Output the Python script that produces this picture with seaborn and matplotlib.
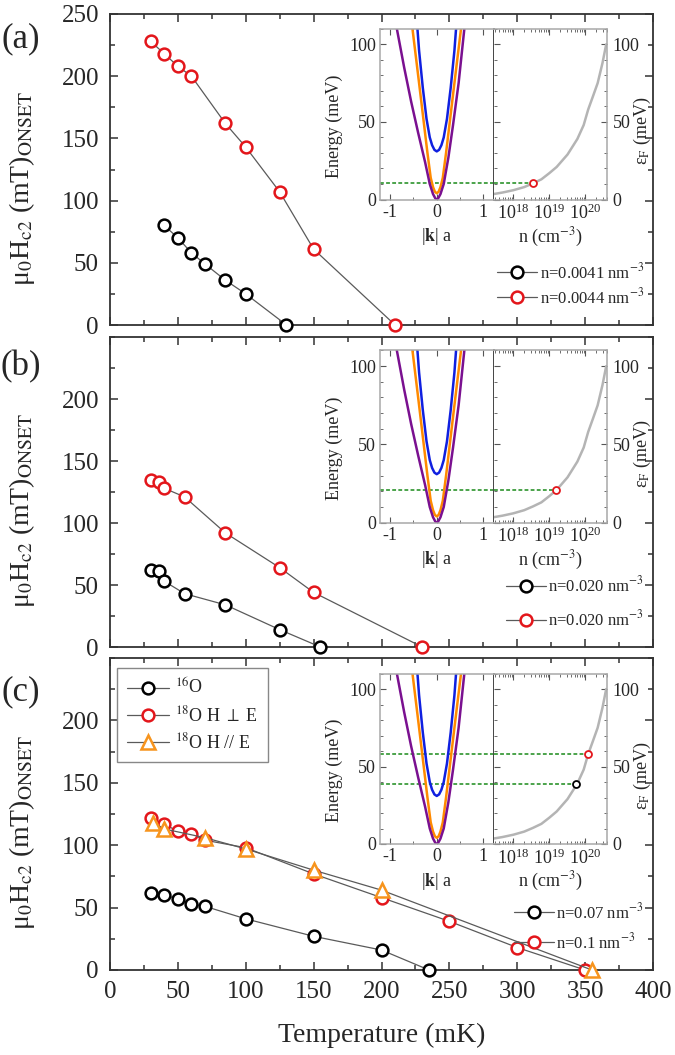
import matplotlib
matplotlib.use("Agg")
import matplotlib.pyplot as plt
import seaborn as sns
from matplotlib.ticker import MultipleLocator, FixedLocator, LogLocator, NullFormatter

sns.set_style("ticks")
plt.rcParams['font.family'] = ['Liberation Serif', 'DejaVu Serif']
plt.rcParams['mathtext.fontset'] = 'stix'
plt.rcParams['axes.unicode_minus'] = False

# ---- main panels: onset field vs temperature ----
T_a_blk = [40, 50, 60, 70, 85, 100, 130]
H_a_blk = [80, 70, 58, 49, 36, 25, 0]
T_a_red = [30, 40, 50, 60, 85, 100, 125, 150, 210]
H_a_red = [228, 218, 208, 200, 162, 143, 107, 61, 0]

T_b_blk = [30, 36, 40, 55, 85, 125, 155]
H_b_blk = [62, 61, 53, 43, 34, 14, 0]
T_b_red = [30, 36, 40, 55, 85, 125, 150, 230]
H_b_red = [135, 133, 128, 121, 92, 64, 44, 0]

T_c_16 = [30, 40, 50, 60, 70, 100, 150, 200, 235]
H_c_16 = [62, 60, 57, 53, 51, 41, 27, 16, 0]
T_c_perp = [30, 40, 50, 60, 70, 100, 150, 200, 250, 300, 350]
H_c_perp = [122, 117, 111, 109, 104, 98, 77, 58, 39, 18, 0]
T_c_par = [32, 40, 70, 100, 150, 200, 355]
H_c_par = [118, 113, 106, 97, 80, 64, 0]

labels_a = ["n=0.0041 nm$^{-3}$", "n=0.0044 nm$^{-3}$"]
labels_b = ["n=0.020 nm$^{-3}$", "n=0.020 nm$^{-3}$"]
labels_c = ["n=0.07 nm$^{-3}$", "n=0.1 nm$^{-3}$"]
labels_iso = ["$^{16}$O", "$^{18}$O H $\\perp$ E", "$^{18}$O H // E"]

# ---- insets: band dispersions and Fermi energy vs density ----
k_blue = [-0.42, -0.38, -0.30, -0.22, -0.15, -0.10, -0.05, 0, 0.05, 0.10, 0.15, 0.22, 0.30, 0.38, 0.42]
E_blue = [112, 96, 72, 52, 40, 35, 32, 31, 32, 35, 40, 52, 72, 96, 112]
k_orange = [-0.53, -0.40, -0.30, -0.20, -0.13, -0.08, -0.04, 0, 0.04, 0.08, 0.13, 0.20, 0.30, 0.40, 0.53]
E_orange = [112, 80, 55, 30, 14, 8, 5, 4, 5, 8, 14, 30, 55, 80, 112]
k_purple = [-0.87, -0.70, -0.55, -0.40, -0.25, -0.15, -0.08, -0.03, 0, 0.03, 0.08, 0.15, 0.25, 0.35, 0.47, 0.60]
E_purple = [112, 85, 63, 43, 24, 10, 3.5, 0.7, 0, 0.7, 3.5, 10, 27, 48, 75, 112]

n_curve = [2.8e17, 5e17, 1e18, 2e18, 3.5e18, 6e18, 1e19, 1.6e19, 3.2e19, 6e19, 9e19, 1.2e20, 1.6e20, 2.2e20, 3e20, 3.8e20]
eF_curve = [3.5, 4.5, 6, 8, 10.4, 13, 17, 21, 29, 39, 48, 58, 66, 75, 88, 100]

n_a, eF_a = [3.5e18], [10.4]
n_b, eF_b = [1.55e19], [21]
n_c, eF_c = [5.6e19, 1.2e20], [39, 58]

RED = '#e3161b'
ORANGE = '#f7941d'
LINE = '#5a5a5a'
SPINE = '#333333'

W, H = 675, 1055
fig = plt.figure(figsize=(W / 100, H / 100), dpi=100)


def box(x0, y0, x1, y1):
    return fig.add_axes([x0 / W, 1 - y1 / H, (x1 - x0) / W, (y1 - y0) / H])


def series(ax, T, Hc, col, label, marker='o', ms=8.5):
    sns.lineplot(x=T, y=Hc, ax=ax, color=LINE, lw=0.9, marker=marker, ms=ms,
                 mfc='white', mec=col, mew=1.8, label=label, errorbar=None,
                 clip_on=False, zorder=3)


def style_main(ax, show_x, top_label):
    ax.set_xlim(0, 400)
    ax.set_ylim(0, 250)
    ax.xaxis.set_major_locator(MultipleLocator(50))
    ax.xaxis.set_minor_locator(MultipleLocator(25))
    if top_label:
        ax.yaxis.set_major_locator(MultipleLocator(50))
    else:
        ax.yaxis.set_major_locator(FixedLocator([0, 50, 100, 150, 200]))
    ax.yaxis.set_minor_locator(MultipleLocator(25))
    ax.tick_params(which='both', direction='in', top=True, right=True,
                   color=SPINE, width=1.1, labelsize=18, pad=8)
    ax.tick_params(which='major', length=6)
    ax.tick_params(which='minor', length=3.5)
    ax.tick_params(labelbottom=show_x)
    for s in ax.spines.values():
        s.set_color(SPINE)
        s.set_linewidth(1.3)
    ax.set_ylabel("μ$_0$H$_{\\rm c2}$ (mT)$_{\\rm ONSET}$", fontsize=20)
    ax.yaxis.set_label_coords(-0.135, 0.44)


def pair_legend(ax, labels, loc_y, spacing):
    handles, _ = ax.get_legend_handles_labels()
    ax.legend(handles[:2], labels, loc='lower right', bbox_to_anchor=(1.005, loc_y),
              frameon=False, fontsize=12, handlelength=2.4, handletextpad=0.15,
              labelspacing=spacing, borderpad=0.2)


def inset(y0, y1, n_pts, eF_pts, pt_cols):
    axl = box(380, y0, 493.5, y1)
    axr = box(493.5, y0, 607, y1)
    sns.lineplot(x=k_blue, y=E_blue, ax=axl, color='#1020e0', lw=1.8, errorbar=None)
    sns.lineplot(x=k_orange, y=E_orange, ax=axl, color='#ff8a00', lw=1.8, errorbar=None)
    sns.lineplot(x=k_purple, y=E_purple, ax=axl, color='#7a1090', lw=1.8, errorbar=None)
    axl.set_xlim(-1.22, 1.22)
    axl.set_ylim(0, 110)
    axl.set_xticks([-1, 0, 1])
    axl.set_xticklabels(['-1', '0', '1'])
    axl.xaxis.set_minor_locator(MultipleLocator(0.5))
    axl.set_yticks([0, 50, 100])
    axl.yaxis.set_minor_locator(MultipleLocator(10))
    axl.tick_params(which='both', direction='in', top=True, right=False,
                    color='#555555', labelsize=13, pad=3)
    axl.tick_params(which='major', length=4)
    axl.tick_params(which='minor', length=2)
    axl.set_xlabel("|$\\mathbf{k}$| a", fontsize=13, labelpad=4)
    axl.set_ylabel("Energy (meV)", fontsize=13)
    axl.yaxis.set_label_coords(-0.33, 0.43)

    axr.set_xscale('log')
    sns.lineplot(x=n_curve, y=eF_curve, ax=axr, color='#b4b4b4', lw=1.8, errorbar=None)
    axr.set_xlim(2.8e17, 4e20)
    axr.set_ylim(0, 110)
    axr.set_xticks([1e18, 1e19, 1e20])
    axr.xaxis.set_minor_locator(LogLocator(base=10, subs=range(2, 10), numticks=20))
    axr.xaxis.set_minor_formatter(NullFormatter())
    axr.set_yticks([0, 50, 100])
    axr.yaxis.set_minor_locator(MultipleLocator(10))
    axr.yaxis.tick_right()
    axr.tick_params(which='both', direction='in', top=True, left=True, right=True,
                    labelleft=False, labelright=True, color='#555555',
                    labelsize=13, pad=4)
    axr.tick_params(axis='x', pad=3)
    axr.tick_params(which='major', length=4)
    axr.tick_params(which='minor', length=2)
    axr.set_xlabel("n (cm$^{-3}$)", fontsize=13, labelpad=2)
    axr.yaxis.set_label_position('right')
    axr.set_ylabel("ε$_{\\rm F}$ (meV)", fontsize=13, rotation=90, va='center')
    axr.yaxis.set_label_coords(1.31, 0.40)

    for e, n, c in zip(eF_pts, n_pts, pt_cols):
        axl.axhline(e, color='#1a8a1a', lw=1.1, ls=(0, (2.5, 1.5)), zorder=1)
        axr.hlines(e, 2.8e17, n, color='#1a8a1a', lw=1.1, ls=(0, (2.5, 1.5)), zorder=1)
        axr.plot(n, e, 'o', ms=5, mfc='white', mec=c, mew=1.3, zorder=4)

    for ax in (axl, axr):
        for s in ax.spines.values():
            s.set_color('#a8a8a8')
            s.set_linewidth(1.1)
    axl.spines['right'].set_color('#444444')
    axl.spines['right'].set_linewidth(1.4)
    axr.spines['left'].set_visible(False)


ax_a = box(110, 14, 653, 325)
ax_b = box(110, 337, 653, 647)
ax_c = box(110, 658, 653, 970)

series(ax_a, T_a_blk, H_a_blk, 'black', labels_a[0])
series(ax_a, T_a_red, H_a_red, RED, labels_a[1])
style_main(ax_a, False, True)
pair_legend(ax_a, labels_a, 0.02, 0.3)

series(ax_b, T_b_blk, H_b_blk, 'black', labels_b[0])
series(ax_b, T_b_red, H_b_red, RED, labels_b[1])
style_main(ax_b, False, False)
pair_legend(ax_b, labels_b, 0.018, 0.85)

series(ax_c, T_c_16, H_c_16, 'black', labels_iso[0])
series(ax_c, T_c_perp, H_c_perp, RED, labels_iso[1])
series(ax_c, T_c_par, H_c_par, ORANGE, labels_iso[2], marker='^', ms=10)
style_main(ax_c, True, False)
ax_c.set_xlabel("Temperature (mK)", fontsize=20, labelpad=14)
handles, _ = ax_c.get_legend_handles_labels()
leg1 = ax_c.legend(handles, labels_iso, loc='upper left', bbox_to_anchor=(0.013, 0.968),
                   borderaxespad=0, fontsize=13, handlelength=2.3, handletextpad=0.35,
                   labelspacing=0.4, fancybox=False, edgecolor='#888888', framealpha=1,
                   borderpad=0.55)
leg1.get_frame().set_linewidth(1.0)
ax_c.add_artist(leg1)
pair_legend(ax_c, labels_c, 0.02, 0.6)

inset(28.8, 199.5, n_a, eF_a, [RED])
inset(350.5, 522.7, n_b, eF_b, [RED])
inset(673.5, 844, n_c, eF_c, ['black', RED])

for y, lab in [(39, "(a)"), (367, "(b)"), (692, "(c)")]:
    fig.text(21 / W, 1 - y / H, lab, fontsize=25, ha='center', va='center')

fig.savefig("out.png", dpi=100)
